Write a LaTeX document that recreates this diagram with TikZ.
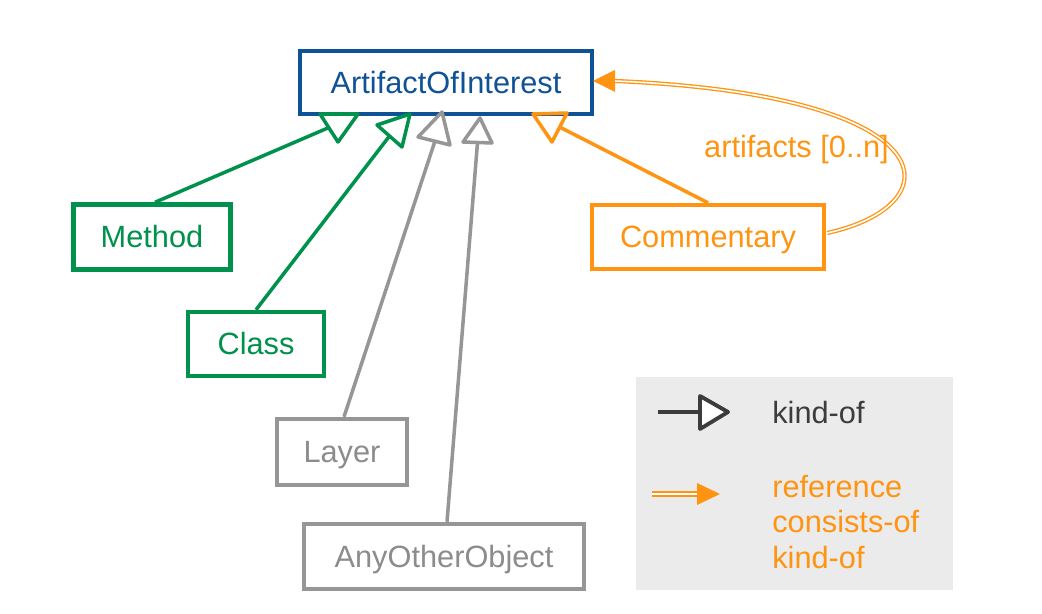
\documentclass[tikz,border=0pt]{standalone}
\usepackage{fontspec}
\setmainfont{Liberation Sans}
\usetikzlibrary{calc}
\definecolor{aoiblue}{RGB}{16,82,150}
\definecolor{kgreen}{RGB}{0,145,76}
\definecolor{korange}{RGB}{255,148,18}
\definecolor{kgray}{RGB}{150,150,150}
\definecolor{kgraytext}{RGB}{140,140,140}
\definecolor{legendbg}{RGB}{235,235,235}
\definecolor{kdark}{RGB}{60,60,60}
\tikzset{
  box/.style={draw, rectangle, line width=2.5pt, inner sep=0pt, fill=white,
    text height=12.5pt, text depth=0pt,
    font=\fontsize{17.5}{21}\selectfont},
  kline/.style={line width=2pt},
  ktri/.style={line width=2pt, line join=round},
  refline/.style={draw=korange, double=white, double distance=0.9pt, line width=0.75pt},
  lbl/.style={inner sep=0pt, font=\fontsize{17.5}{20.4}\selectfont}
}
\begin{document}
\begin{tikzpicture}[x=0.02cm, y=-0.02cm]
\useasboundingbox (0,0) rectangle (1042,614);

% legend background
\node (legend) [fill=legendbg, minimum width=6.34cm, minimum height=4.26cm, inner sep=0pt] at (794.5,483.5) {};

% boxes
\node (aoi) [box, draw=aoiblue, text=aoiblue, line width=2.8pt, minimum width=5.84cm, minimum height=1.26cm] at (446,82.5) {ArtifactOfInterest};
\node (m) [box, draw=kgreen, text=kgreen, minimum width=3.14cm, minimum height=1.30cm] at (152,237) {Method};
\node (cl) [box, draw=kgreen, text=kgreen, minimum width=2.72cm, minimum height=1.28cm] at (256,344) {Class};
\node (ly) [box, draw=kgray, text=kgraytext, minimum width=2.60cm, minimum height=1.32cm] at (342,452) {Layer};
\node (ao) [box, draw=kgray, text=kgraytext, minimum width=5.60cm, minimum height=1.30cm] at (444,556.5) {AnyOtherObject};
\node (cm) [box, draw=korange, text=korange, minimum width=4.64cm, minimum height=1.28cm] at (708,237) {Commentary};

% arrow ends (kind-of)
\coordinate (e1) at (329,127.5);
\coordinate (e2) at (389.5,136);
\coordinate (e3) at (435,141);
\coordinate (e4) at (477.5,142.5);
\coordinate (e5) at (559.5,127);

\draw[kline, kgreen] ($(m.north)+(3,0)$) -- (e1);
\draw[ktri, kgreen] (320,114) -- (358,114) -- (338,142) -- cycle;
\draw[kline, kgreen] (cl.north) -- (e2);
\draw[ktri, kgreen] (377,125) -- (410,114) -- (402,147) -- cycle;
\draw[kline, kgray] ($(ly.north)+(2,0)$) -- (e3);
\draw[ktri, kgray] (442,112) -- (418,137) -- (450,145) -- cycle;
\draw[kline, kgray] ($(ao.north)+(3,0)$) -- (e4);
\draw[ktri, kgray] (480,118) -- (463,142) -- (492,143) -- cycle;
\draw[kline, korange] (cm.north) -- (e5);
\draw[ktri, korange] (533,114) -- (567,113) -- (552,142) -- cycle;

% reference curve
\coordinate (rtip) at (615,81);
\draw[refline] ($(cm.east)+(1,-4)$) .. controls (955,205) and (950,95) .. (rtip);
\fill[korange] (593,81) -- (615,70) -- (615,92) -- cycle;
\node (art) [lbl, text=korange] at (796.5,150) {artifacts [0..n]};

% legend
\coordinate (l1a) at (658,412);
\coordinate (l1b) at (700,412);
\draw[line width=2.2pt, kdark] (l1a) -- (l1b);
\draw[line width=2.2pt, kdark, fill=white, line join=round] (700,396) -- (728,412) -- (700,429) -- cycle;
\node (lk) [lbl, text=kdark, anchor=west] at (772,412.5) {kind-of};

\coordinate (l2a) at (652,494);
\coordinate (l2b) at (699,494);
\draw[refline, line width=1pt, double distance=1.1pt] (l2a) -- (l2b);
\fill[korange] (697,483) -- (720,494) -- (697,505) -- cycle;
\node (lr) [lbl, text=korange, anchor=west, align=left] at (772,522) {reference\\consists-of\\kind-of};
\end{tikzpicture}
\end{document}
